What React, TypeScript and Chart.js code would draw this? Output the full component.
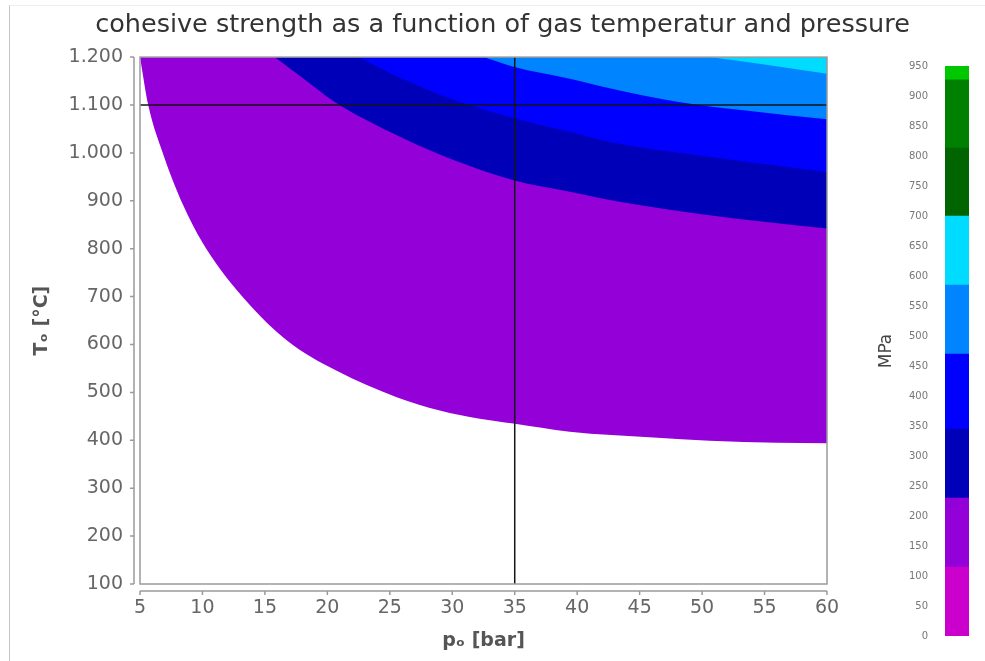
import React, { useEffect, useRef } from "react";
import { Chart, registerables } from "chart.js";

Chart.register(...registerables);

// ---------- data ----------
const titleText = "cohesive strength as a function of gas temperatur and pressure";
const xTitle = "pₒ [bar]";
const yTitle = "Tₒ [°C]";
const unitTitle = "MPa";

const xTicks = [5, 10, 15, 20, 25, 30, 35, 40, 45, 50, 55, 60];
const yTicks = [100, 200, 300, 400, 500, 600, 700, 800, 900, 1000, 1100, 1200];

// contour levels (MPa) and their colours (colour i fills levels[i]..levels[i+1])
const levels = [0, 115, 230, 345, 470, 585, 700, 813, 927, 950];
const levelColors = ["#cc00cc", "#9400d8", "#0000b8", "#0000ff", "#0084ff", "#00dcff", "#006400", "#008000", "#00c800"];
const colorbarTicks = [0, 50, 100, 150, 200, 250, 300, 350, 400, 450, 500, 550, 600, 650, 700, 750, 800, 850, 900, 950];

// contour boundary lines: pressure [bar] and temperature [°C]
const c115P = [5, 5.66, 6.74, 8.47, 10.0, 12.74, 16.74, 20.75, 25.55, 29.0, 32.2, 34.9, 39.4, 46.1, 50.6, 56, 60];
const c115T = [1200, 1100, 1006, 890, 813, 714, 609, 545, 490, 462, 445, 435, 418, 406, 399, 395, 394];

const c230P = [15.8, 18.1, 20.5, 23, 26.1, 30.1, 34.9, 39.4, 43.4, 50.6, 60];
const c230T = [1200, 1155, 1108, 1070, 1030, 985, 943, 919, 898, 870, 842];

const c345P = [22.5, 24, 26.1, 30.1, 34.9, 39.4, 42.6, 50.6, 60];
const c345T = [1200, 1180, 1154, 1111, 1073, 1044, 1023, 992, 960];

const c470P = [32.5, 34.9, 39.4, 42.6, 48, 53.3, 60];
const c470T = [1200, 1180, 1155, 1135, 1107, 1089, 1070];

const c585P = [50.6, 55.4, 60];
const c585T = [1200, 1183, 1165];

// reference lines
const refP = 35;
const refT = 1100;

// ---------- helpers ----------
const pts = (px: number[], ty: number[]) => px.map((x, i) => ({ x, y: ty[i] }));
const fmtT = (v: number) =>
  v >= 1000 ? Math.floor(v / 1000) + "." + String(v % 1000).padStart(3, "0") : String(v);

const FONT = "DejaVu Sans";

const offsetAxesPlugin = {
  id: "offsetAxes",
  afterDatasetsDraw(chart: any) {
    const { ctx, chartArea: a, scales } = chart;
    ctx.save();
    ctx.strokeStyle = "#9a9a9a";
    ctx.lineWidth = 1.5;
    ctx.strokeRect(a.left, a.top, a.right - a.left, a.bottom - a.top);
    ctx.beginPath();
    const yx = a.left - 6;
    ctx.moveTo(yx, a.top);
    ctx.lineTo(yx, a.bottom);
    for (const t of scales.y.ticks) {
      const py = scales.y.getPixelForValue(t.value);
      ctx.moveTo(yx, py);
      ctx.lineTo(yx - 4, py);
    }
    const xy = a.bottom + 7;
    ctx.moveTo(a.left, xy);
    ctx.lineTo(a.right, xy);
    for (const t of scales.x.ticks) {
      const px = scales.x.getPixelForValue(t.value);
      ctx.moveTo(px, xy);
      ctx.lineTo(px, xy + 4);
    }
    ctx.stroke();
    ctx.restore();
  },
};

export default function App() {
  const mainRef = useRef<HTMLCanvasElement>(null);
  const cbRef = useRef<HTMLCanvasElement>(null);

  useEffect(() => {
    const band = (p: number[], t: number[], color: string) => ({
      data: pts(p, t),
      borderColor: "rgba(0,0,0,0)",
      borderWidth: 0,
      backgroundColor: color,
      fill: "end",
      pointRadius: 0,
      cubicInterpolationMode: "monotone",
    });
    const xMin = xTicks[0];
    const xMax = xTicks[xTicks.length - 1];
    const yMin = yTicks[0];
    const yMax = yTicks[yTicks.length - 1];

    const main = new Chart(mainRef.current!, {
      type: "line",
      data: {
        datasets: [
          {
            data: [{ x: xMin, y: refT }, { x: xMax, y: refT }],
            borderColor: "#151515",
            borderWidth: 1.5,
            fill: false,
            pointRadius: 0,
          },
          {
            data: [{ x: refP, y: yMin }, { x: refP, y: yMax }],
            borderColor: "#151515",
            borderWidth: 1.5,
            fill: false,
            pointRadius: 0,
          },
          band(c585P, c585T, levelColors[5]),
          band(c470P, c470T, levelColors[4]),
          band(c345P, c345T, levelColors[3]),
          band(c230P, c230T, levelColors[2]),
          band(c115P, c115T, levelColors[1]),
        ] as any,
      },
      options: {
        responsive: false,
        animation: false,
        devicePixelRatio: 1,
        layout: { padding: 0 },
        plugins: {
          legend: { display: false },
          tooltip: { enabled: false },
          title: {
            display: true,
            text: titleText,
            color: "#333",
            font: { family: FONT, size: 25.5, weight: "normal" },
            padding: { top: 10.5, bottom: 16 },
          },
        },
        scales: {
          x: {
            type: "linear",
            min: xMin,
            max: xMax,
            afterBuildTicks: (s: any) => {
              s.ticks = xTicks.map((v) => ({ value: v }));
            },
            afterFit: (s: any) => {
              s.height = 77;
            },
            grid: { display: false, drawTicks: false },
            border: { display: false },
            ticks: {
              color: "#666",
              font: { family: FONT, size: 19 },
              padding: 13,
              maxRotation: 0,
              autoSkip: false,
            },
            title: {
              display: true,
              text: xTitle,
              color: "#555",
              font: { family: FONT, size: 19, weight: "bold" },
              padding: { top: 0, bottom: 9 },
            },
          },
          y: {
            type: "linear",
            min: yMin,
            max: yMax,
            afterBuildTicks: (s: any) => {
              s.ticks = yTicks.map((v) => ({ value: v }));
            },
            afterFit: (s: any) => {
              s.width = 140;
            },
            grid: { display: false, drawTicks: false },
            border: { display: false },
            ticks: {
              color: "#666",
              font: { family: FONT, size: 19 },
              padding: 17,
              autoSkip: false,
              callback: (v: any) => fmtT(Number(v)),
            },
            title: {
              display: true,
              text: yTitle,
              color: "#555",
              font: { family: FONT, size: 19, weight: "bold" },
              padding: { top: 31, bottom: 0 },
            },
          },
          ySpace: {
            type: "linear",
            position: "right",
            display: true,
            ticks: { display: false },
            grid: { display: false, drawTicks: false },
            border: { display: false },
            afterFit: (s: any) => {
              s.width = 178;
            },
          },
        },
      } as any,
      plugins: [offsetAxesPlugin],
    });

    const cb = new Chart(cbRef.current!, {
      type: "bar",
      data: {
        labels: [""],
        datasets: levelColors.map((c, i) => ({
          data: [[levels[i], levels[i + 1]]],
          backgroundColor: c,
          borderWidth: 0,
          grouped: false,
          barPercentage: 1,
          categoryPercentage: 1,
        })) as any,
      },
      options: {
        responsive: false,
        animation: false,
        devicePixelRatio: 1,
        layout: { padding: { top: 66, bottom: 25, left: 0, right: 16 } },
        plugins: { legend: { display: false }, tooltip: { enabled: false } },
        scales: {
          x: { display: false },
          y: {
            min: levels[0],
            max: levels[levels.length - 1],
            afterBuildTicks: (s: any) => {
              s.ticks = colorbarTicks.map((v) => ({ value: v }));
            },
            afterFit: (s: any) => {
              s.width = 85;
            },
            grid: { display: false, drawTicks: false },
            border: { display: false },
            ticks: { color: "#777", font: { family: FONT, size: 10 }, padding: 17, autoSkip: false },
            title: {
              display: true,
              text: unitTitle,
              color: "#444",
              font: { family: FONT, size: 17 },
              padding: { top: 16, bottom: 0 },
            },
          },
        },
      } as any,
    });

    return () => {
      main.destroy();
      cb.destroy();
    };
  }, []);

  return (
    <div
      style={{
        position: "absolute",
        left: 0,
        top: 0,
        width: 985,
        height: 661,
        overflow: "hidden",
        background: "#fff",
      }}
    >
      <div
        style={{
          position: "absolute",
          left: 9,
          top: 5,
          right: 0,
          bottom: 0,
          borderLeft: "1px solid #c4c4c4",
          borderTop: "1px solid #ececec",
        }}
      />
      <canvas
        ref={mainRef}
        width={1005}
        height={661}
        style={{ position: "absolute", left: 0, top: 0, width: 1005, height: 661 }}
      />
      <canvas
        ref={cbRef}
        width={125}
        height={661}
        style={{ position: "absolute", left: 860, top: 0, width: 125, height: 661 }}
      />
    </div>
  );
}
